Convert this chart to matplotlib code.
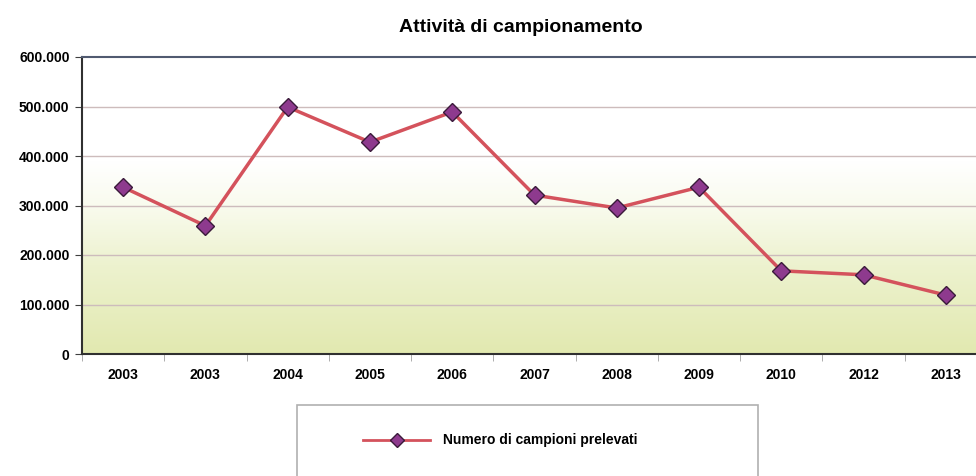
import matplotlib
matplotlib.use("Agg")
import matplotlib.pyplot as plt
import numpy as np
from matplotlib.lines import Line2D
from matplotlib.patches import Rectangle
from matplotlib.colors import LinearSegmentedColormap

plt.rcParams['font.family'] = ['Liberation Sans', 'DejaVu Sans']

categories = ["2003", "2003", "2004", "2005", "2006", "2007", "2008", "2009", "2010", "2012", "2013"]
values = [337000, 259000, 499000, 428000, 489000, 321000, 295000, 337000, 168000, 160000, 119000]
yticks = [0, 100000, 200000, 300000, 400000, 500000, 600000]
ytick_labels = ["0", "100.000", "200.000", "300.000", "400.000", "500.000", "600.000"]
title = "Attività di campionamento"
series_name = "Numero di campioni prelevati"

fig = plt.figure(figsize=(9.76, 4.76), dpi=100)
ax = fig.add_axes([82/976, 122/476, 905/976, 297/476])

n = len(categories)
x = np.arange(n)
ax.set_xlim(-0.5, n - 0.5)
ax.set_ylim(0, 600000)

# background gradient
cmap = LinearSegmentedColormap.from_list("bg", [(0.0, "#e2e9b0"), (0.3, "#edf2cf"), (0.5, "#f9fbee"), (0.65, "#ffffff"), (1.0, "#ffffff")])
grad = np.linspace(0, 1, 256).reshape(-1, 1)
ax.imshow(grad, extent=(-0.5, n - 0.5, 0, 600000), origin="lower", aspect="auto", cmap=cmap, zorder=0)

for yt in yticks[1:-1]:
    ax.axhline(yt, color="#cdbcbc", lw=1.0, zorder=1)

ax.plot(x, values, color="#d4525c", lw=2.5, marker="D", markersize=9,
        markerfacecolor="#8e3a8e", markeredgecolor="#3a1a3a", markeredgewidth=1.0, zorder=3, clip_on=False)

ax.set_yticks(yticks)
ax.set_yticklabels(ytick_labels, fontsize=10, fontweight="bold")
ax.set_xticks(x)
ax.set_xticklabels(categories, fontsize=10, fontweight="bold")
ax.tick_params(axis="x", length=0, pad=10)
ax.set_xticks(np.arange(n + 1) - 0.5, minor=True)
ax.tick_params(axis="x", which="minor", length=5, color="#a0a0a0")
ax.tick_params(axis="y", length=5, color="#404040", pad=4)

for s in ["left", "bottom"]:
    ax.spines[s].set_color("#303030")
    ax.spines[s].set_linewidth(1.5)
ax.spines["top"].set_color("#505a70")
ax.spines["top"].set_linewidth(1.5)
ax.spines["right"].set_visible(False)

fig.text(521/976, 1 - 27/476, title, ha="center", va="center", fontsize=14, fontweight="bold")

# legend box
fig.patches.append(Rectangle((297/976, -0.05), 461/976, (476 - 405)/476 + 0.05,
                             transform=fig.transFigure, facecolor="white", edgecolor="#b0b0b0", lw=1.2))
ly = 1 - 440/476
fig.lines.append(Line2D([363/976, 430/976], [ly, ly], transform=fig.transFigure, color="#d4525c", lw=2.0))
fig.lines.append(Line2D([397/976], [ly], transform=fig.transFigure, marker="D", markersize=7,
                        markerfacecolor="#8e3a8e", markeredgecolor="#3a1a3a", lw=0))
fig.text(443/976, ly, series_name, ha="left", va="center", fontsize=10, fontweight="bold")

fig.savefig("out.png", dpi=100)
